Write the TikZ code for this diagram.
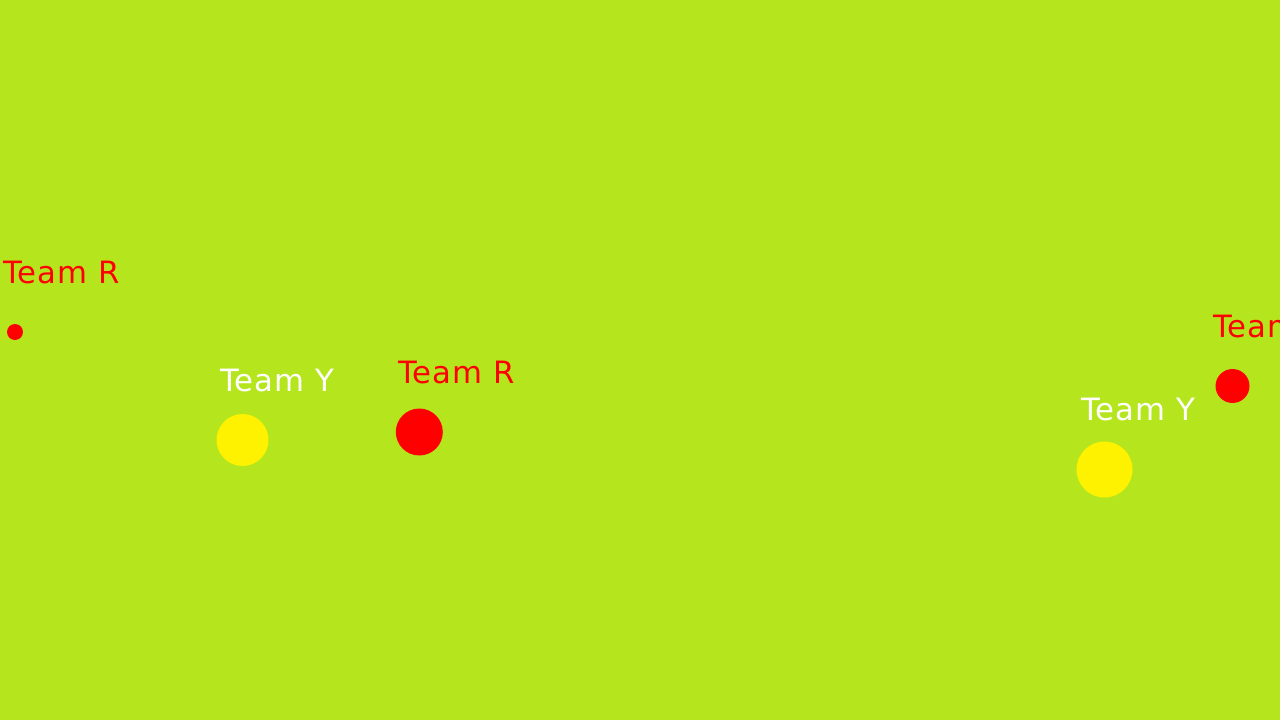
\documentclass[tikz,border=0pt]{standalone}
\usepackage{fontspec}
\setmainfont{DejaVu Sans}[LetterSpace=3]
\definecolor{campo}{RGB}{181,230,29}
\tikzset{
  jugador/.style={circle, inner sep=0pt, draw=none},
  rotulo/.style={anchor=base west, inner sep=0pt, font=\fontsize{17.5}{20}\selectfont}
}
\begin{document}
\begin{tikzpicture}[x=0.02cm, y=-0.02cm]
    % --- campo
    \clip (0,0) rectangle (1280,720);
    \fill[campo] (0,0) rectangle (1280,720);
    % --- jugadores, con su equipo encima
    \node[jugador, fill=red, minimum size=0.32cm] (r1) at (15,332) {};
    \node[rotulo, red] (tr1) at (3,283) {Team R};
    \node[jugador, fill=yellow, minimum size=1.04cm] (y1) at (242.5,440) {};
    \node[rotulo, white] (ty1) at (220,391) {Team Y};
    \node[jugador, fill=red, minimum size=0.94cm] (r2) at (419.3,432) {};
    \node[rotulo, red] (tr2) at (398,383) {Team R};
    \node[jugador, fill=yellow, minimum size=1.12cm] (y2) at (1104.5,469.5) {};
    \node[rotulo, white] (ty2) at (1081,420) {Team Y};
    \node[jugador, fill=red, minimum size=0.68cm] (r3) at (1232.5,386) {};
    \node[rotulo, red] (tr3) at (1213,337) {Team R};
\end{tikzpicture}
\end{document}
